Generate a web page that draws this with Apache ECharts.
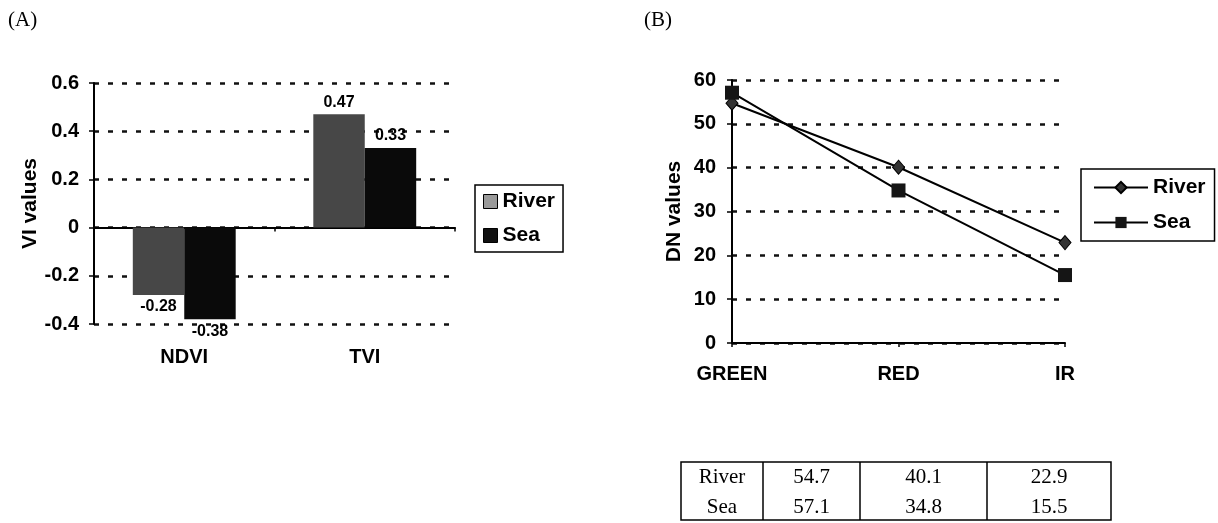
<!DOCTYPE html>
<html>
<head>
<meta charset="utf-8">
<script src="https://cdn.jsdelivr.net/npm/echarts@6/dist/echarts.min.js"></script>
<style>
html,body{margin:0;padding:0;background:#fff;}
#chart{width:1218px;height:523px;}
</style>
</head>
<body>
<div id="chart"></div>
<script>
// ---- Data ----
const viCategories = ['NDVI', 'TVI'];
const viRiver = [-0.28, 0.47];
const viSea = [-0.38, 0.33];
const viAxisMin = -0.4, viAxisMax = 0.6, viAxisStep = 0.2;

const dnCategories = ['GREEN', 'RED', 'IR'];
const dnRiver = [54.7, 40.1, 22.9];
const dnSea = [57.1, 34.8, 15.5];
const dnAxisMin = 0, dnAxisMax = 60, dnAxisStep = 10;

const tableRowNames = ['River', 'Sea'];

// ---- Styling ----
const SANS = '"Liberation Sans", Arial, sans-serif';
const SERIF = '"Liberation Serif", "Times New Roman", serif';
const gridDash = {type: [5, 9], width: 2.5, color: '#111'};
const axisLineStyle = {color: '#000', width: 2};

const chart = echarts.init(document.getElementById('chart'), null, {renderer: 'canvas'});

function barData(vals) {
  return vals.map(v => ({value: v, label: {position: v < 0 ? 'bottom' : 'top'}}));
}

// table graphic (layout only; values come from the arrays)
const tbl = {x: 681, y: 462, w: 430, h: 58, cols: [681, 763, 860, 987, 1111], rows: [477, 507]};
const tableChildren = [
  {type: 'rect', shape: {x: tbl.x, y: tbl.y, width: tbl.w, height: tbl.h},
   style: {fill: 'none', stroke: '#000', lineWidth: 1.5}}
];
for (let i = 1; i < tbl.cols.length - 1; i++) {
  tableChildren.push({type: 'line', shape: {x1: tbl.cols[i], y1: tbl.y, x2: tbl.cols[i], y2: tbl.y + tbl.h},
    style: {stroke: '#000', lineWidth: 1.5}});
}
const tableRows = [dnRiver, dnSea];
tableRows.forEach((row, r) => {
  const cells = [tableRowNames[r]].concat(row.map(v => v.toFixed(1)));
  cells.forEach((txt, c) => {
    tableChildren.push({type: 'text', style: {
      text: txt, x: (tbl.cols[c] + tbl.cols[c + 1]) / 2, y: tbl.rows[r],
      textAlign: 'center', textVerticalAlign: 'middle',
      font: '21px ' + SERIF, fill: '#000'}});
  });
});

const option = {
  animation: false,
  backgroundColor: '#fff',
  title: [
    {text: '(A)', left: 8, top: 10, padding: 0, textStyle: {fontFamily: SERIF, fontSize: 21, fontWeight: 'normal', color: '#000'}},
    {text: '(B)', left: 644, top: 10, padding: 0, textStyle: {fontFamily: SERIF, fontSize: 21, fontWeight: 'normal', color: '#000'}}
  ],
  grid: [
    {left: 94, top: 83, width: 361, height: 241},
    {left: 732, top: 80, width: 333, height: 263}
  ],
  legend: [
    {
      data: [
        {name: 'A-River', icon: 'rect', itemStyle: {color: '#9a9a9a', borderColor: '#000', borderWidth: 1}},
        {name: 'A-Sea', icon: 'rect', itemStyle: {color: '#111', borderColor: '#000', borderWidth: 1}}
      ],
      formatter: n => n.slice(2),
      orient: 'vertical', left: 475, top: 185,
      padding: [6, 8, 6, 8], itemGap: 13, itemWidth: 14, itemHeight: 14,
      borderColor: '#000', borderWidth: 1.5, selectedMode: false,
      textStyle: {fontFamily: SANS, fontSize: 21, fontWeight: 'bold', color: '#000'}
    },
    {
      data: ['B-River', 'B-Sea'],
      formatter: n => n.slice(2),
      orient: 'vertical', left: 1081, top: 169,
      padding: [8, 9, 8, 12], itemGap: 14, itemWidth: 54, itemHeight: 14,
      borderColor: '#000', borderWidth: 1.5, selectedMode: false,
      textStyle: {fontFamily: SANS, fontSize: 21, fontWeight: 'bold', color: '#000'}
    }
  ],
  xAxis: [
    {
      gridIndex: 0, type: 'category', data: viCategories, position: 'bottom',
      axisLine: {show: false, onZero: false}, axisTick: {show: false},
      axisLabel: {margin: 23, fontFamily: SANS, fontSize: 20, fontWeight: 'bold', color: '#000'},
      splitLine: {show: false}
    },
    {
      gridIndex: 0, type: 'category', data: viCategories, position: 'bottom',
      axisLine: {show: true, onZero: true, lineStyle: axisLineStyle},
      axisTick: {show: true, length: 4, lineStyle: {color: '#000', width: 1.5}},
      axisLabel: {show: false}, splitLine: {show: false}
    },
    {
      gridIndex: 1, type: 'category', data: dnCategories, boundaryGap: false,
      axisLine: {show: true, onZero: false, lineStyle: axisLineStyle},
      axisTick: {show: true, length: 4, lineStyle: {color: '#000', width: 1.5}},
      axisLabel: {margin: 21, fontFamily: SANS, fontSize: 20, fontWeight: 'bold', color: '#000'},
      splitLine: {show: false}
    }
  ],
  yAxis: [
    {
      gridIndex: 0, type: 'value', min: viAxisMin, max: viAxisMax, interval: viAxisStep,
      name: 'VI values', nameLocation: 'middle', nameGap: 47,
      nameTextStyle: {fontFamily: SANS, fontSize: 21, fontWeight: 'bold', color: '#000'},
      axisLine: {show: true, onZero: false, lineStyle: axisLineStyle},
      axisTick: {show: true, length: 5, lineStyle: {color: '#000', width: 1.5}},
      axisLabel: {margin: 15, fontFamily: SANS, fontSize: 20, fontWeight: 'bold', color: '#000',
        formatter: v => String(Math.round(v * 10) / 10)},
      splitLine: {show: true, lineStyle: gridDash}
    },
    {
      gridIndex: 1, type: 'value', min: dnAxisMin, max: dnAxisMax, interval: dnAxisStep,
      name: 'DN values', nameLocation: 'middle', nameGap: 47,
      nameTextStyle: {fontFamily: SANS, fontSize: 21, fontWeight: 'bold', color: '#000'},
      axisLine: {show: true, onZero: false, lineStyle: axisLineStyle},
      axisTick: {show: true, length: 5, lineStyle: {color: '#000', width: 1.5}},
      axisLabel: {margin: 16, fontFamily: SANS, fontSize: 20, fontWeight: 'bold', color: '#000'},
      splitLine: {show: true, lineStyle: gridDash}
    }
  ],
  series: [
    {
      name: 'A-River', type: 'bar', xAxisIndex: 0, yAxisIndex: 0,
      data: barData(viRiver), barGap: '0%', barCategoryGap: '43%',
      itemStyle: {color: '#474747'},
      label: {show: true, distance: 4, fontFamily: SANS, fontSize: 16, fontWeight: 'bold', color: '#000'}
    },
    {
      name: 'A-Sea', type: 'bar', xAxisIndex: 0, yAxisIndex: 0,
      data: barData(viSea), barGap: '0%', barCategoryGap: '43%',
      itemStyle: {color: '#0a0a0a'},
      label: {show: true, distance: 4, fontFamily: SANS, fontSize: 16, fontWeight: 'bold', color: '#000'}
    },
    {
      name: 'B-River', type: 'line', xAxisIndex: 2, yAxisIndex: 1,
      data: dnRiver, symbol: 'diamond', symbolSize: [12, 14],
      lineStyle: {color: '#000', width: 2}, itemStyle: {color: '#333', borderColor: '#000', borderWidth: 1}
    },
    {
      name: 'B-Sea', type: 'line', xAxisIndex: 2, yAxisIndex: 1,
      data: dnSea, symbol: 'rect', symbolSize: 14,
      lineStyle: {color: '#000', width: 2}, itemStyle: {color: '#151515'}
    }
  ],
  graphic: tableChildren
};

chart.setOption(option);
</script>
</body>
</html>
